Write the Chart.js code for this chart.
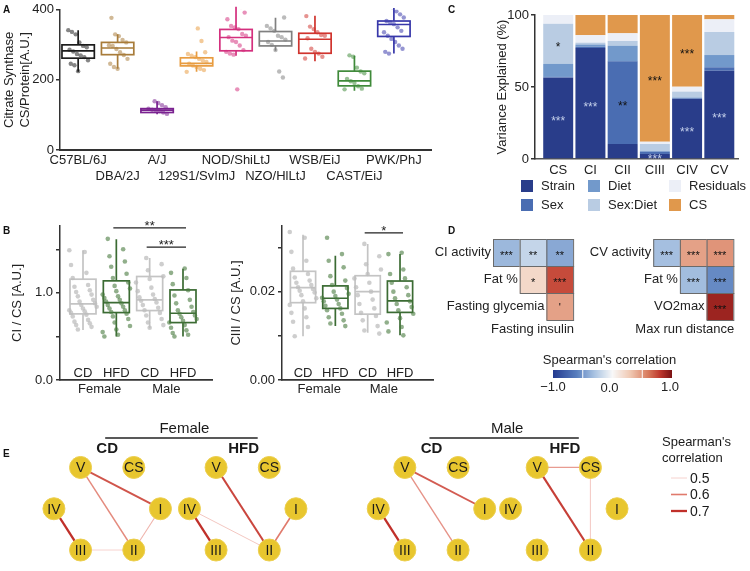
<!DOCTYPE html>
<html>
<head>
<meta charset="utf-8">
<script src="https://cdn.jsdelivr.net/npm/chart.js@4.4.1/dist/chart.umd.min.js"></script>
<style>
  html, body { margin: 0; padding: 0; background: #fff; }
  body { width: 750px; height: 571px; position: relative; overflow: hidden; font-family: 'Liberation Sans', Arial, sans-serif; }
  canvas { position: absolute; }
  .tag { position: absolute; font-weight: bold; font-size: 10px; color: #111; line-height: 10px; }
</style>
</head>
<body>
<canvas id="cA" width="440" height="200" style="left:0;top:0;width:440px;height:200px"></canvas>
<canvas id="cC" width="310" height="215" style="left:440px;top:0;width:310px;height:215px"></canvas>
<canvas id="cB1" width="220" height="185" style="left:0;top:215px;width:220px;height:185px"></canvas>
<canvas id="cB2" width="220" height="185" style="left:220px;top:215px;width:220px;height:185px"></canvas>
<canvas id="cD" width="350" height="185" style="left:400px;top:215px;width:350px;height:185px"></canvas>
<canvas id="cE" width="750" height="176" style="left:0;top:395px;width:750px;height:176px"></canvas>
<div class="tag" style="left:3px;top:5px">A</div>
<div class="tag" style="left:448px;top:5px">C</div>
<div class="tag" style="left:3px;top:226px">B</div>
<div class="tag" style="left:448px;top:226px">D</div>
<div class="tag" style="left:3px;top:449px">E</div>
<script>
// ---------- panel A: citrate synthase per strain ----------
const strains = ['C57BL/6J', 'DBA/2J', 'A/J', '129S1/SvImJ', 'NOD/ShiLtJ', 'NZO/HlLtJ', 'WSB/EiJ', 'CAST/EiJ', 'PWK/PhJ'];
const csMed = [283, 291, 114, 247, 321, 311, 316, 197, 358];
const csQ1 = [262, 272, 107, 240, 283, 297, 276, 183, 324];
const csQ3 = [300, 307, 118, 263, 344, 338, 333, 225, 368];
const csLo = [223, 232, 102, 223, 269, 283, 253, 169, 275];
const csHi = [342, 330, 139, 281, 409, 377, 383, 269, 405];
const csPoints = [
  [342, 337, 330, 307, 297, 293, 286, 281, 274, 270, 265, 256, 246, 242, 225],
  [377, 330, 325, 314, 307, 299, 297, 288, 279, 271, 260, 246, 237, 232],
  [139, 134, 128, 122, 118, 115, 113, 111, 107, 103],
  [347, 311, 279, 274, 269, 265, 260, 255, 251, 246, 241, 237, 232, 228, 223],
  [408, 392, 373, 354, 350, 345, 331, 326, 322, 312, 308, 298, 285, 280, 275, 272, 173],
  [378, 354, 347, 340, 326, 322, 315, 308, 300, 285, 224, 207],
  [382, 352, 345, 336, 328, 326, 319, 289, 280, 275, 266, 261],
  [270, 266, 235, 224, 219, 203, 196, 191, 182, 175, 173],
  [406, 396, 387, 378, 368, 364, 359, 350, 340, 336, 326, 317, 308, 298, 289, 280, 275]
];
const strainColors = ['#1c1c1c', '#a87c3a', '#7a2290', '#e89c40', '#d4307e', '#808080', '#d0342e', '#3f8a3a', '#3838aa'];

// ---------- panel B: CI/CS and CIII/CS ----------
const diets = ['CD', 'HFD', 'CD', 'HFD'];
const sexes = ['Female', 'Male'];
const ciMed = [0.874, 0.889, 0.92, 0.766];
const ciQ1 = [0.759, 0.774, 0.797, 0.659];
const ciQ3 = [1.157, 1.138, 1.188, 1.034];
const ciLo = [0.575, 0.498, 0.594, 0.498];
const ciHi = [1.49, 1.617, 1.40, 1.276];
const ciPoints = [
  [1.49, 1.47, 1.32, 1.23, 1.17, 1.09, 1.07, 1.03, 1.01, 0.98, 0.96, 0.92, 0.90, 0.88, 0.86, 0.84, 0.82, 0.80, 0.79, 0.77, 0.75, 0.73, 0.69, 0.67, 0.65, 0.63, 0.61, 0.58],
  [1.62, 1.50, 1.42, 1.36, 1.30, 1.22, 1.17, 1.12, 1.08, 1.05, 1.02, 0.98, 0.96, 0.94, 0.92, 0.90, 0.88, 0.86, 0.84, 0.82, 0.80, 0.78, 0.76, 0.73, 0.70, 0.66, 0.62, 0.58, 0.55, 0.52, 0.50],
  [1.40, 1.33, 1.26, 1.19, 1.16, 1.12, 1.06, 1.02, 0.98, 0.95, 0.93, 0.91, 0.89, 0.86, 0.83, 0.80, 0.77, 0.74, 0.70, 0.66, 0.63, 0.60],
  [1.28, 1.23, 1.17, 1.10, 1.03, 0.97, 0.92, 0.88, 0.84, 0.80, 0.78, 0.76, 0.74, 0.72, 0.70, 0.68, 0.66, 0.63, 0.60, 0.57, 0.54, 0.52, 0.50]
];
const ciSig = [[1, 3, '**'], [2, 3, '***']];
const ciiiMed = [0.0209, 0.0185, 0.0200, 0.0179];
const ciiiQ1 = [0.0175, 0.0162, 0.0149, 0.0153];
const ciiiQ3 = [0.0246, 0.0213, 0.0236, 0.0224];
const ciiiLo = [0.0099, 0.0122, 0.0107, 0.0101];
const ciiiHi = [0.0329, 0.0281, 0.0308, 0.0285];
const ciiiPoints = [
  [0.0335, 0.0322, 0.0290, 0.0270, 0.0252, 0.0240, 0.0232, 0.0225, 0.0220, 0.0215, 0.0210, 0.0206, 0.0202, 0.0198, 0.0192, 0.0185, 0.0178, 0.0170, 0.0162, 0.0152, 0.0142, 0.0132, 0.0120, 0.0099],
  [0.0322, 0.0285, 0.0270, 0.0255, 0.0235, 0.0225, 0.0215, 0.0208, 0.0200, 0.0195, 0.0190, 0.0186, 0.0182, 0.0178, 0.0172, 0.0168, 0.0162, 0.0158, 0.0150, 0.0142, 0.0135, 0.0128, 0.0122],
  [0.0308, 0.0280, 0.0262, 0.0250, 0.0240, 0.0230, 0.0220, 0.0210, 0.0200, 0.0192, 0.0182, 0.0172, 0.0162, 0.0152, 0.0145, 0.0135, 0.0122, 0.0112, 0.0105],
  [0.0288, 0.0285, 0.0250, 0.0240, 0.0230, 0.0220, 0.0210, 0.0200, 0.0192, 0.0185, 0.0178, 0.0172, 0.0165, 0.0158, 0.0150, 0.0140, 0.0130, 0.0120, 0.0110, 0.0101]
];
const ciiiSig = [[2, 3, '*']];
const dietBox = ['#c4c4c4', '#3b6b33', '#c4c4c4', '#3b6b33'];
const dietDot = ['rgba(190,190,190,0.75)', 'rgba(72,122,62,0.6)', 'rgba(190,190,190,0.75)', 'rgba(72,122,62,0.6)'];

// ---------- panel C: variance explained (%) ----------
const complexes = ['CS', 'CI', 'CII', 'CIII', 'CIV', 'CV'];
const components = ['Strain', 'Sex', 'Diet', 'Sex:Diet', 'Residuals', 'CS'];
const varStrain = [56.5, 77, 10.4, 3.5, 41.7, 61.3];
const varSex = [0.5, 1, 57.4, 1.5, 0.5, 2.4];
const varDiet = [9, 1.5, 10.9, 0.5, 0.5, 8.5];
const varSexDiet = [28, 1.3, 3.3, 4.9, 4.1, 16];
const varResid = [6, 5.2, 5.3, 1.6, 3.4, 8.8];
const varCS = [0, 14, 12.7, 88, 49.8, 3];
const sigStrain = ['***', '***', '', '***', '***', '***'];
const sigSex = ['', '', '**', '', '', ''];
const sigSexDiet = ['*', '', '', '', '', ''];
const sigCS = ['', '', '', '***', '***', ''];
const compColors = ['#293d8a', '#4a6db2', '#7299cb', '#b9cce3', '#eceff7', '#e0984c'];

// ---------- panel D: correlation triangles ----------
const leftVars = ['CI activity', 'Fat %', 'Fasting glycemia', 'Fasting insulin'];
const leftRho = [[-0.35, -0.2, -0.42], [0.2, 0.74], [0.45]];
const leftSig = [['***', '**', '**'], ['*', '***'], ["'"]];
const rightVars = ['CV activity', 'Fat %', 'VO2max', 'Max run distance'];
const rightRho = [[-0.32, 0.45, 0.5], [-0.33, -0.55], [0.9]];
const rightSig = [['***', '***', '***'], ['***', '***'], ['***']];

// ---------- panel E: correlation networks ----------
const netGroups = ['Female CD', 'Female HFD', 'Male CD', 'Male HFD'];
const nodeNames = ['V', 'CS', 'IV', 'I', 'III', 'II'];
const nodeCol = [1, 3, 0, 4, 1, 3];
const nodeRow = [0, 0, 1, 1, 2, 2];
const groupOffset = [1.575, 6.665, 13.756, 18.727];
const netEdges = [
  [['V', 'I', 0.65], ['V', 'II', 0.58], ['I', 'II', 0.53], ['III', 'II', 0.5], ['IV', 'III', 0.73]],
  [['V', 'II', 0.67], ['I', 'II', 0.6], ['IV', 'II', 0.51], ['IV', 'III', 0.74]],
  [['V', 'I', 0.64], ['V', 'II', 0.57], ['IV', 'III', 0.72]],
  [['V', 'CS', 0.56], ['CS', 'II', 0.5], ['V', 'II', 0.68]]
];
const legendRho = [0.5, 0.6, 0.7];

// ---------- shared setup ----------
const FONT = "'Liberation Sans', Arial, Helvetica, sans-serif";
Chart.defaults.font.family = FONT;
Chart.defaults.font.size = 13;
Chart.defaults.color = '#222';
Chart.defaults.animation = false;
Chart.defaults.responsive = false;
Chart.defaults.devicePixelRatio = 1;
Chart.defaults.events = [];
Chart.defaults.plugins.legend.display = false;
Chart.defaults.plugins.tooltip.enabled = false;

const AXIS = '#333';
function jit(j) { return ((j * 37) % 17) / 16 - 0.5; }

function boxPlugin(st, colors, halfW) {
  return {
    id: 'boxes',
    beforeDatasetsDraw(chart) {
      const { ctx, scales: { x, y } } = chart;
      ctx.save();
      ctx.lineWidth = 1.7;
      st.med.forEach((m, i) => {
        const l = x.getPixelForValue(i - halfW), r = x.getPixelForValue(i + halfW), c = x.getPixelForValue(i);
        const t = y.getPixelForValue(st.q3[i]), b = y.getPixelForValue(st.q1[i]), mm = y.getPixelForValue(m);
        ctx.strokeStyle = colors[i];
        ctx.beginPath();
        ctx.moveTo(c, y.getPixelForValue(st.hi[i])); ctx.lineTo(c, t);
        ctx.moveTo(c, b); ctx.lineTo(c, y.getPixelForValue(st.lo[i]));
        ctx.moveTo(l, mm); ctx.lineTo(r, mm);
        ctx.stroke();
        ctx.strokeRect(l, t, r - l, b - t);
      });
      ctx.restore();
    }
  };
}

function yAxis(extra) {
  return Object.assign({
    grid: { drawOnChartArea: false, drawTicks: true, tickLength: 4, color: AXIS, lineWidth: 1.5 },
    border: { display: true, color: AXIS, width: 1.5 },
    ticks: { color: '#222', padding: 3, font: { size: 13 } }
  }, extra);
}

// ---------- chart A ----------
new Chart(document.getElementById('cA'), {
  type: 'scatter',
  data: {
    datasets: strains.map((s, i) => ({
      data: csPoints[i].map((v, j) => ({ x: i + jit(j + i) * 0.5, y: v })),
      backgroundColor: strainColors[i] + '88', pointRadius: 2.2, borderWidth: 0
    }))
  },
  options: {
    layout: { padding: { top: 7, right: 9, left: 2 } },
    scales: {
      x: {
        type: 'linear', min: -0.46, max: 8.94,
        afterBuildTicks: s => { s.ticks = strains.map((_, i) => ({ value: i })); },
        afterFit: s => { s.height = 50; },
        grid: { display: false, drawTicks: false },
        border: { display: true, color: AXIS, width: 2 },
        ticks: { autoSkip: false, maxRotation: 0, padding: 3, color: '#222',
          callback: v => { const i = Math.round(v); return i % 2 ? ['', strains[i]] : strains[i]; } }
      },
      y: yAxis({
        min: 0, max: 400,
        ticks: { stepSize: 200, color: '#222', padding: 2 },
        afterFit: s => { s.width = 58; },
        title: { display: true, text: ['Citrate Synthase', 'CS/Protein[A.U.]'], color: '#222', font: { size: 13 }, padding: 0 }
      })
    }
  },
  plugins: [boxPlugin({ med: csMed, q1: csQ1, q3: csQ3, lo: csLo, hi: csHi }, strainColors, 0.41)]
});

// ---------- chart B (two panels) ----------
function ratioChart(id, title, med, q1, q3, lo, hi, pts, sig, yOpts, xMin, xMax, yWidth, padLeft, padRight) {
  const sigPlugin = {
    id: 'labels',
    afterDraw(chart) {
      const { ctx, scales: { x, y }, chartArea } = chart;
      ctx.save();
      ctx.fillStyle = '#222';
      ctx.textAlign = 'center';
      ctx.textBaseline = 'middle';
      ctx.font = '13px ' + FONT;
      diets.forEach((d, i) => ctx.fillText(d, x.getPixelForValue(i), chartArea.bottom - 7));
      sexes.forEach((s, k) => ctx.fillText(s, x.getPixelForValue(2 * k + 0.5), chartArea.bottom + 9));
      ctx.strokeStyle = '#222';
      ctx.lineWidth = 1.3;
      sig.forEach(([a, b, txt]) => {
        let top = 0;
        for (let i = a; i <= b; i++) top = Math.max(top, ...pts[i]);
        const yy = y.getPixelForValue(top) - 11;
        ctx.beginPath();
        ctx.moveTo(x.getPixelForValue(a) - 3, yy); ctx.lineTo(x.getPixelForValue(b) + 3, yy);
        ctx.stroke();
        ctx.textBaseline = 'alphabetic';
        ctx.fillText(txt, (x.getPixelForValue(a) + x.getPixelForValue(b)) / 2, yy + 2);
      });
      ctx.restore();
    }
  };
  new Chart(document.getElementById(id), {
    type: 'scatter',
    data: {
      datasets: pts.map((p, i) => ({
        data: p.map((v, j) => ({ x: i + jit(j * 3 + i) * 0.82, y: v })),
        backgroundColor: dietDot[i], pointRadius: 2.3, borderWidth: 0
      }))
    },
    options: {
      layout: { padding: { top: 8, left: padLeft, right: padRight } },
      scales: {
        x: {
          type: 'linear', min: xMin, max: xMax,
          afterFit: s => { s.height = 20; },
          grid: { display: false, drawTicks: false },
          border: { display: true, color: AXIS, width: 1.8 },
          ticks: { display: false }
        },
        y: yAxis(Object.assign({
          afterFit: s => { s.width = yWidth; },
          title: { display: true, text: title, color: '#222', font: { size: 13 }, padding: 0 }
        }, yOpts))
      }
    },
    plugins: [boxPlugin({ med, q1, q3, lo, hi }, dietBox, 0.39), sigPlugin]
  });
}

ratioChart('cB1', 'CI / CS [A.U.]', ciMed, ciQ1, ciQ3, ciLo, ciHi, ciPoints, ciSig, {
  min: 0, max: 1.77,
  ticks: { stepSize: 0.5, includeBounds: false, color: '#222', padding: 3,
    callback: v => (Math.abs(v % 1) < 1e-9 ? v.toFixed(1) : '') }
}, -0.69, 3.87, 50, 10, 8);

ratioChart('cB2', 'CIII / CS [A.U.]', ciiiMed, ciiiQ1, ciiiQ3, ciiiLo, ciiiHi, ciiiPoints, ciiiSig, {
  min: 0, max: 0.0349,
  ticks: { stepSize: 0.01, includeBounds: false, color: '#222', padding: 3,
    callback: v => (Math.abs(v) < 1e-9 ? '0.00' : Math.abs(v - 0.02) < 1e-9 ? '0.02' : '') }
}, -0.65, 4.02, 53, 9, 7);

// ---------- chart C ----------
const compValues = [varStrain, varSex, varDiet, varSexDiet, varResid, varCS];
const compSig = [sigStrain, sigSex, null, sigSexDiet, null, sigCS];
const cPlugin = {
  id: 'cExtras',
  afterDatasetsDraw(chart) {
    const { ctx, scales: { x, y } } = chart;
    ctx.save();
    ctx.textAlign = 'center';
    ctx.textBaseline = 'alphabetic';
    ctx.font = '12px ' + FONT;
    complexes.forEach((c, i) => {
      let base = 0;
      compValues.forEach((vals, k) => {
        const mid = base + vals[i] / 2;
        base += vals[i];
        if (compSig[k] && compSig[k][i]) {
          ctx.fillStyle = k === 0 ? '#c3cfea' : '#111';
          ctx.fillText(compSig[k][i], x.getPixelForValue(i), y.getPixelForValue(mid) + 7);
        }
      });
    });
    ctx.restore();
  },
  afterDraw(chart) {
    const { ctx } = chart;
    const cols = [81, 148, 229], rows = [180, 199];
    const order = [0, 2, 4, 1, 3, 5];
    ctx.save();
    ctx.font = '13px ' + FONT;
    ctx.textBaseline = 'middle';
    ctx.textAlign = 'left';
    order.forEach((k, n) => {
      const cx = cols[n % 3], cy = rows[Math.floor(n / 3)];
      ctx.fillStyle = compColors[k];
      ctx.fillRect(cx, cy, 12, 12);
      ctx.fillStyle = '#222';
      ctx.fillText(components[k], cx + 20, cy + 6.5);
    });
    ctx.restore();
  }
};
new Chart(document.getElementById('cC'), {
  type: 'bar',
  data: {
    datasets: components.map((name, k) => ({
      label: name,
      data: compValues[k].map((v, i) => ({ x: i, y: v })),
      backgroundColor: compColors[k], borderWidth: 0,
      barPercentage: 0.93, categoryPercentage: 1
    }))
  },
  options: {
    layout: { padding: { top: 15, left: 55, right: 12 } },
    scales: {
      x: {
        type: 'linear', stacked: true, min: -0.72, max: 5.58, offset: false,
        afterBuildTicks: s => { s.ticks = complexes.map((_, i) => ({ value: i })); },
        afterFit: s => { s.height = 56; },
        grid: { display: false, drawTicks: false },
        border: { display: true, color: '#555', width: 1.5 },
        ticks: { autoSkip: false, maxRotation: 0, padding: 4, color: '#222', callback: v => complexes[Math.round(v)] }
      },
      y: yAxis({
        stacked: true, min: 0, max: 100,
        ticks: { stepSize: 50, color: '#222', padding: 2 },
        afterFit: s => { s.width = 40; },
        title: { display: true, text: 'Variance Explained (%)', color: '#222', font: { size: 13 }, padding: 0 }
      })
    }
  },
  plugins: [cPlugin]
});

// ---------- chart D ----------
const rdStops = [[-1, [35, 58, 143]], [-0.6, [88, 126, 190]], [-0.3, [170, 196, 226]], [0, [248, 248, 248]],
  [0.3, [240, 200, 178]], [0.6, [216, 122, 92]], [0.8, [190, 55, 45]], [1, [122, 17, 19]]];
function rdbu(v) {
  for (let i = 1; i < rdStops.length; i++) {
    if (v <= rdStops[i][0]) {
      const [a, ca] = rdStops[i - 1], [b, cb] = rdStops[i];
      const t = (v - a) / (b - a);
      return 'rgb(' + ca.map((c, k) => Math.round(c + (cb[k] - c) * t)).join(',') + ')';
    }
  }
  return 'rgb(122,17,19)';
}
const dPlugin = {
  id: 'heat',
  afterDraw(chart) {
    const { ctx, scales: { x, y } } = chart;
    ctx.save();
    const drawTri = (vars, rho, sig, col0) => {
      rho.forEach((row, r) => {
        row.forEach((v, j) => {
          const c = col0 + r + j;
          const px = x.getPixelForValue(c), py = y.getPixelForValue(r);
          const w = x.getPixelForValue(c + 1) - px, h = y.getPixelForValue(r + 1) - py;
          ctx.fillStyle = rdbu(v);
          ctx.fillRect(px, py, w, h);
          ctx.strokeStyle = '#6a6a6a';
          ctx.lineWidth = 1;
          ctx.strokeRect(px + 0.5, py + 0.5, w, h);
          ctx.fillStyle = '#111';
          ctx.font = '11px ' + FONT;
          ctx.textAlign = 'center';
          ctx.textBaseline = 'alphabetic';
          ctx.fillText(sig[r][j], px + w / 2, py + h / 2 + (sig[r][j] === "'" ? 4 : 6));
        });
        ctx.font = '13px ' + FONT;
        ctx.fillStyle = '#222';
        ctx.textAlign = 'right';
        ctx.textBaseline = 'middle';
        ctx.fillText(vars[r], x.getPixelForValue(col0 + r) - 2, y.getPixelForValue(r + 0.5));
      });
      const n = rho.length;
      ctx.fillText(vars[n], x.getPixelForValue(col0 + n) + 1, y.getPixelForValue(n + 0.35));
    };
    drawTri(leftVars, leftRho, leftSig, 0);
    drawTri(rightVars, rightRho, rightSig, 6);
    // colour bar
    const bx0 = 153, bx1 = 272, by = 155, bh = 8;
    for (let px = bx0; px < bx1; px++) {
      ctx.fillStyle = rdbu(-1 + 2 * (px - bx0 + 0.5) / (bx1 - bx0));
      ctx.fillRect(px, by, 1, bh);
    }
    ctx.fillStyle = '#fff';
    [-0.5, 0.5].forEach(v => ctx.fillRect(bx0 + (v + 1) / 2 * (bx1 - bx0) - 0.5, by, 1, bh));
    ctx.fillStyle = '#222';
    ctx.font = '13px ' + FONT;
    ctx.textAlign = 'center';
    ctx.textBaseline = 'middle';
    ctx.fillText("Spearman's correlation", (bx0 + bx1) / 2 - 3, 145);
    ctx.fillText('\u22121.0', bx0, 172);
    ctx.fillText('0.0', (bx0 + bx1) / 2 - 3, 173);
    ctx.fillText('1.0', bx1 - 2, 172);
    ctx.restore();
  }
};
new Chart(document.getElementById('cD'), {
  type: 'scatter',
  data: { datasets: [{ data: [] }] },
  options: {
    layout: { padding: 0 },
    scales: {
      x: { type: 'linear', display: false, min: -3.483, max: 9.625 },
      y: { type: 'linear', display: false, min: -0.889, max: 5.963, reverse: true }
    }
  },
  plugins: [dPlugin]
});

// ---------- chart E ----------
const edgeLo = [245, 205, 200], edgeMid = [224, 122, 108], edgeHi = [192, 48, 42];
function edgeStyle(r) {
  const t = Math.max(0, Math.min(1, (r - 0.5) / 0.2));
  const mix = t < 0.5 ? [edgeLo, edgeMid, t * 2] : [edgeMid, edgeHi, (t - 0.5) * 2];
  const c = mix[0].map((v, k) => Math.round(v + (mix[1][k] - v) * mix[2]));
  return { color: 'rgb(' + c.join(',') + ')', width: 0.9 + 1.4 * t };
}
function nodePos(g, name) {
  const k = nodeNames.indexOf(name);
  return { x: groupOffset[g] + nodeCol[k], y: nodeRow[k] };
}
const edgeSets = [];
netEdges.forEach((edges, g) => edges.forEach(([a, b, r]) => {
  const st = edgeStyle(r);
  edgeSets.push({
    type: 'line', data: [nodePos(g, a), nodePos(g, b)], showLine: true,
    borderColor: st.color, borderWidth: st.width, pointRadius: 0, clip: false
  });
}));
const nodeSet = {
  data: netGroups.flatMap((_, g) => nodeNames.map(n => nodePos(g, n))),
  backgroundColor: '#e8c62e', borderColor: '#eccf50', borderWidth: 1, pointRadius: 11, clip: false
};
const ePlugin = {
  id: 'net',
  afterDatasetsDraw(chart) {
    const { ctx, scales: { x, y } } = chart;
    ctx.save();
    ctx.fillStyle = '#1a1a1a';
    ctx.font = '14px ' + FONT;
    ctx.textAlign = 'center';
    ctx.textBaseline = 'middle';
    netGroups.forEach((_, g) => nodeNames.forEach(n => {
      const p = nodePos(g, n);
      ctx.fillText(n, x.getPixelForValue(p.x), y.getPixelForValue(p.y) + 1);
    }));
    // headers
    ctx.strokeStyle = '#222';
    ctx.lineWidth = 1.5;
    [[0, 1], [2, 3]].forEach(([a, b], s) => {
      const xa = x.getPixelForValue(groupOffset[a] + 2), xb = x.getPixelForValue(groupOffset[b] + 2);
      const l = xa - 2, r = xb + 15;
      ctx.beginPath(); ctx.moveTo(l, 43); ctx.lineTo(r, 43); ctx.stroke();
      ctx.font = '15px ' + FONT;
      ctx.fillText(sexes[s], (l + r) / 2 + 3, 34);
      ctx.font = 'bold 15px ' + FONT;
      ctx.fillText(netGroups[a].split(' ')[1], xa, 54);
      ctx.fillText(netGroups[b].split(' ')[1], xb + 1, 54);
    });
    // legend
    ctx.font = '13px ' + FONT;
    ctx.textAlign = 'left';
    ctx.fillText("Spearman's", 662, 47);
    ctx.fillText('correlation', 662, 63);
    legendRho.forEach((r, i) => {
      const st = edgeStyle(r), yy = 83 + i * 16.5;
      ctx.strokeStyle = st.color; ctx.lineWidth = st.width;
      ctx.beginPath(); ctx.moveTo(671, yy); ctx.lineTo(687, yy); ctx.stroke();
      ctx.fillStyle = '#1a1a1a';
      ctx.font = '14px ' + FONT;
      ctx.fillText(r.toFixed(1), 690, yy + 1);
    });
    ctx.restore();
  }
};
new Chart(document.getElementById('cE'), {
  type: 'scatter',
  data: { datasets: [nodeSet, ...edgeSets] },
  options: {
    layout: { padding: 0 },
    scales: {
      x: { type: 'linear', display: false, min: 0, max: 27.27 },
      y: { type: 'linear', display: false, min: -1.4644, max: 2.2176, reverse: true }
    }
  },
  plugins: [ePlugin]
});
</script>
</body>
</html>
